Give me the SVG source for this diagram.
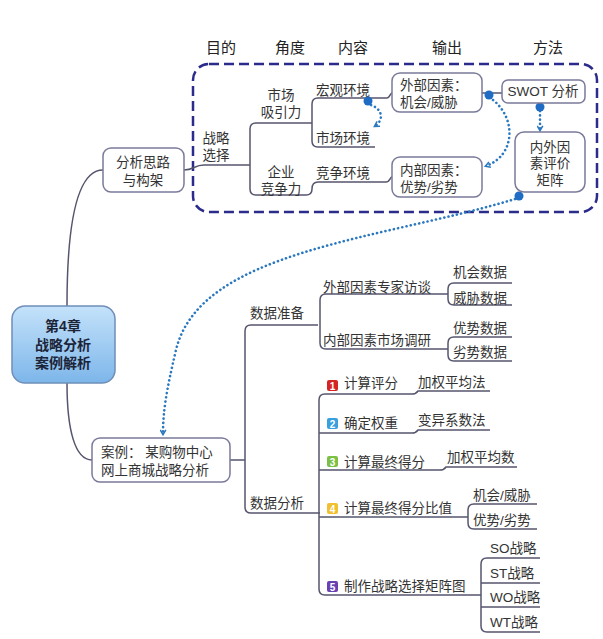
<svg xmlns="http://www.w3.org/2000/svg" width="603" height="639" viewBox="0 0 603 639">
<style>
text{font-family:"Liberation Sans","Noto Sans CJK SC",sans-serif;font-size:13.5px;fill:#333;}
.h{font-size:15px;fill:#222;}
.c{text-anchor:middle;}
.ln{fill:none;stroke:#55556e;stroke-width:1.5;}
.box{fill:#fff;stroke:#7a7a9a;stroke-width:1.5;}
.dot{fill:none;stroke:#2a78c0;stroke-width:2.6;stroke-dasharray:0.1 4.2;stroke-linecap:round;}
.bd{fill:#1f6cc4;}
.num{font-size:10px;font-weight:bold;fill:#fff;text-anchor:middle;}
</style>
<defs>
<linearGradient id="g" x1="0" y1="0" x2="0" y2="1">
<stop offset="0" stop-color="#c4e2fa"/>
<stop offset="1" stop-color="#7db6ea"/>
</linearGradient>
<marker id="ar" viewBox="0 0 10 10" refX="7" refY="5" markerWidth="7" markerHeight="7" orient="auto" markerUnits="userSpaceOnUse">
<path d="M1,1 L8,5 L1,9" fill="none" stroke="#2a78c0" stroke-width="2.2"/>
</marker>
</defs>

<g id="headers">
<text class="h c" x="221" y="53">目的</text>
<text class="h c" x="290" y="53">角度</text>
<text class="h c" x="353" y="53">内容</text>
<text class="h c" x="447" y="53">输出</text>
<text class="h c" x="548" y="53">方法</text>
</g>

<g id="frame">
<rect x="193" y="64" width="404" height="148" rx="16" fill="none" stroke="#2b2b8c" stroke-width="2.5" stroke-dasharray="10 5"/>
</g>

<g id="connectors">
<path class="ln" d="M67,306 C67,230 75,170 103,170"/>
<path class="ln" d="M67,383 C67,430 75,460 92,460"/>
<path class="ln" d="M184,170 C194,170 194,165 204,165 L250,165"/>
<path class="ln" d="M312,123 L256,123 Q250,123 250,129 L250,189 Q250,195 256,195 L306,195 Q312,195 312,189 Q312,182 318,182 L386,182 C390,182 390,177 392,177"/>
<path class="ln" d="M387,98 L318,98 Q312,98 312,104 L312,141 Q312,147 318,147 L375,147"/>
<path class="ln" d="M387,98 C390,98 390,93 392,93"/>
<path class="ln" d="M482,93 L502,93"/>
<path class="ln" d="M230,460 L245,460"/>
<path class="ln" d="M318,325 L251,325 Q245,325 245,331 L245,507 Q245,513 251,513 L320,513"/>
<path class="ln" d="M448,294 L326,294 Q320,294 320,300 L320,343 Q320,349 326,349 L448,349"/>
<path class="ln" d="M512,283 L454,283 Q448,283 448,289 L448,299 Q448,305 454,305 L512,305"/>
<path class="ln" d="M512,337 L454,337 Q448,337 448,343 L448,355 Q448,361 454,361 L512,361"/>
<path class="ln" d="M319,400 Q319,394 325,394 L412,394 Q416,394 418,391 L490,391"/>
<path class="ln" d="M319,400 L319,589 Q319,595 325,595 L481,595"/>
<path class="ln" d="M319,433 L412,433 Q416,433 418,430 L490,430"/>
<path class="ln" d="M319,470 L440,470 Q444,470 446,467 L517,467"/>
<path class="ln" d="M319,517 L468,517"/>
<path class="ln" d="M537,504 L474,504 Q468,504 468,510 L468,523 Q468,529 474,529 L537,529"/>
<path class="ln" d="M540,558 L487,558 Q481,558 481,564 L481,626 Q481,632 487,632 L540,632"/>
<path class="ln" d="M481,583 L540,583 M481,607 L540,607"/>
<!-- dotted relations -->
<path class="dot" d="M371,105 C384,110 383,121 375,126" marker-end="url(#ar)"/>
<path class="dot" d="M493,100 C516,118 516,155 486,166" marker-end="url(#ar)"/>
<path class="dot" d="M540,111 L540,130" marker-end="url(#ar)"/>
<path class="dot" d="M515,199 C380,240 200,250 176,350 C166,392 163,412 163,434" marker-end="url(#ar)"/>
<circle class="bd" cx="368" cy="101" r="4.5"/>
<circle class="bd" cx="489" cy="95" r="4.5"/>
<circle class="bd" cx="540" cy="107" r="4.5"/>
<circle class="bd" cx="519" cy="196" r="4.5"/>
</g>

<g id="root">
<rect x="12" y="306" width="103" height="77" rx="13" fill="url(#g)" stroke="#6f8fb8" stroke-width="1.5"/>
<text class="c" x="63" y="331" style="font-weight:bold;font-size:14px;fill:#1c2438">第4章</text>
<text class="c" x="63" y="350" style="font-weight:bold;font-size:14px;fill:#1c2438">战略分析</text>
<text class="c" x="63" y="368" style="font-weight:bold;font-size:14px;fill:#1c2438">案例解析</text>
</g>

<g id="n-framework">
<rect class="box" x="103" y="148" width="81" height="44" rx="8"/>
<text class="c" x="143" y="167">分析思路</text>
<text class="c" x="143" y="185">与构架</text>
</g>

<g id="n-strategy">
<text class="c" x="216" y="143">战略</text>
<text class="c" x="216" y="160">选择</text>
</g>
<g id="n-market">
<text class="c" x="281" y="100">市场</text>
<text class="c" x="281" y="117">吸引力</text>
</g>
<g id="n-company">
<text class="c" x="281" y="177">企业</text>
<text class="c" x="281" y="194">竞争力</text>
</g>
<g id="n-macro"><text class="c" x="343" y="95">宏观环境</text></g>
<g id="n-mkt-env"><text class="c" x="343" y="143">市场环境</text></g>
<g id="n-compete"><text class="c" x="343" y="178">竞争环境</text></g>

<g id="n-external">
<rect class="box" x="392" y="73" width="90" height="39" rx="8"/>
<text x="400" y="90">外部因素：</text>
<text x="400" y="107">机会/威胁</text>
</g>
<g id="n-internal">
<rect class="box" x="392" y="157" width="90" height="40" rx="8"/>
<text x="400" y="175">内部因素：</text>
<text x="400" y="192">优势/劣势</text>
</g>
<g id="n-swot">
<rect class="box" x="502" y="80" width="83" height="23" rx="6"/>
<text class="c" x="543" y="96">SWOT 分析</text>
</g>
<g id="n-matrix">
<rect class="box" x="515" y="132" width="70" height="60" rx="9"/>
<text class="c" x="550" y="152">内外因</text>
<text class="c" x="550" y="168">素评价</text>
<text class="c" x="550" y="185">矩阵</text>
</g>

<g id="n-case">
<rect class="box" x="92" y="438" width="138" height="44" rx="8"/>
<text x="101" y="457">案例： 某购物中心</text>
<text x="101" y="475">网上商城战略分析</text>
</g>

<g id="n-prep"><text x="250" y="318">数据准备</text></g>
<g id="n-ext-interview"><text x="323" y="292">外部因素专家访谈</text></g>
<g id="n-int-survey"><text x="323" y="345">内部因素市场调研</text></g>
<g id="n-opp-data"><text x="453" y="277">机会数据</text></g>
<g id="n-threat-data"><text x="453" y="303">威胁数据</text></g>
<g id="n-str-data"><text x="453" y="333">优势数据</text></g>
<g id="n-weak-data"><text x="453" y="357">劣势数据</text></g>

<g id="n-analysis"><text x="250" y="508">数据分析</text></g>

<g id="n-step1">
<rect x="327" y="380" width="11" height="11" rx="2" fill="#d42424"/>
<text class="num" x="332.5" y="389.5">1</text>
<text x="344" y="388">计算评分</text>
</g>
<g id="n-m1"><text x="418" y="387">加权平均法</text></g>
<g id="n-step2">
<rect x="327" y="418" width="11" height="11" rx="2" fill="#3a9fdf"/>
<text class="num" x="332.5" y="427.5">2</text>
<text x="344" y="428">确定权重</text>
</g>
<g id="n-m2"><text x="418" y="425">变异系数法</text></g>
<g id="n-step3">
<rect x="327" y="456" width="11" height="11" rx="2" fill="#7cc044"/>
<text class="num" x="332.5" y="465.5">3</text>
<text x="344" y="467">计算最终得分</text>
</g>
<g id="n-m3"><text x="447" y="462">加权平均数</text></g>
<g id="n-step4">
<rect x="327" y="503" width="11" height="11" rx="2" fill="#f0c030"/>
<text class="num" x="332.5" y="512.5">4</text>
<text x="344" y="513">计算最终得分比值</text>
</g>
<g id="n-ot"><text x="473" y="500">机会/威胁</text></g>
<g id="n-sw"><text x="473" y="525">优势/劣势</text></g>
<g id="n-step5">
<rect x="327" y="581" width="11" height="11" rx="2" fill="#6a3fb2"/>
<text class="num" x="332.5" y="590.5">5</text>
<text x="344" y="591">制作战略选择矩阵图</text>
</g>
<g id="n-so"><text x="490" y="553">SO战略</text></g>
<g id="n-st"><text x="490" y="578">ST战略</text></g>
<g id="n-wo"><text x="490" y="602">WO战略</text></g>
<g id="n-wt"><text x="490" y="627">WT战略</text></g>
</svg>
